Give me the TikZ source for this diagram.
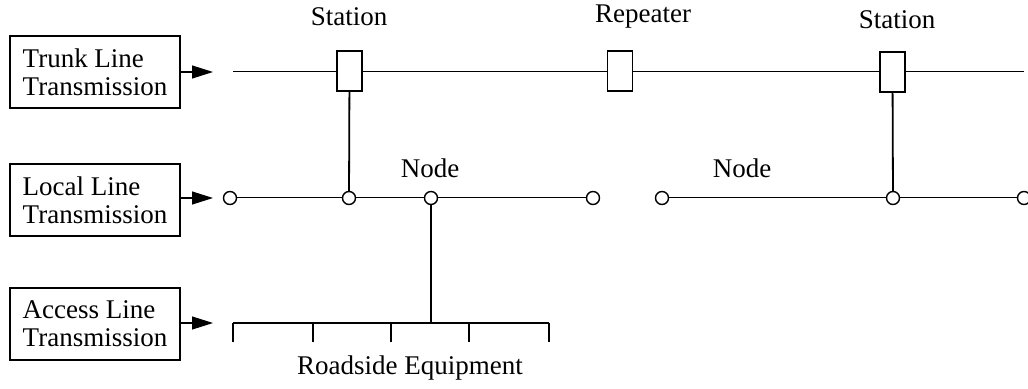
\documentclass[tikz,border=0pt]{standalone}
\usepackage{fontspec}
\setmainfont{Liberation Serif}
\usetikzlibrary{arrows.meta}
\tikzset{
  lbl/.style={draw,line width=0.7pt,minimum width=85pt,minimum height=36pt,align=left,inner sep=2pt},
  stbox/.style={draw,fill=white,line width=0.7pt,minimum width=12.5pt,minimum height=20pt,inner sep=0pt},
  jn/.style={draw,fill=white,circle,line width=0.7pt,minimum size=6.5pt,inner sep=0pt},
  feed/.style={line width=0.6pt,-{Triangle[length=10.5pt,width=6.5pt]}},
}
\begin{document}
\begin{tikzpicture}[x=0.5pt,y=-0.5pt,font=\fontsize{13.5}{14}\selectfont]
    \useasboundingbox (0,0) rectangle (1028,389);
    % left labels
    \node[lbl] (trunk) at (95,72) {Trunk Line\\Transmission};
    \node[lbl] (local) at (95,200) {Local Line\\Transmission};
    \node[lbl] (access) at (95,324) {Access Line\\Transmission};
    \coordinate (ta) at (213,72);
    \coordinate (la) at (213,198);
    \coordinate (aa) at (213,323);
    \draw[feed] (trunk.east) -- (ta);
    \draw[feed] (local.east |- la) -- (la);
    \draw[feed] (access.east |- aa) -- (aa);
    % trunk line
    \coordinate (tl) at (233,72);
    \coordinate (tr) at (1024,72);
    \node[stbox] (st1) at (349.5,71) {};
    \node[stbox] (rep) at (620,71) {};
    \node[stbox] (st2) at (892.5,72) {};
    \draw[line width=0.5pt] (tl) -- (st1.west |- tl) (st1.east |- tl) -- (rep.west |- tl)
        (rep.east |- tl) -- (st2.west |- tl) (st2.east |- tl) -- (tr);
    \node (st1lbl) at (349,17) {Station};
    \node (replbl) at (643,17) {Repeater};
    \node (st2lbl) at (897,20) {Station};
    % local line
    \foreach \x [count=\i] in {230,349,431,593,662,893,1024}
        \node[jn] (c\i) at (\x,198) {};
    \draw[line width=0.5pt] (c1) -- (c2) -- (c3) -- (c4);
    \draw[line width=0.5pt] (c5) -- (c6) -- (c7);
    \draw[line width=0.9pt] (st1) -- (c2);
    \draw[line width=0.9pt] (st2) -- (c6);
    \node (nd1) at (430,168) {Node};
    \node (nd2) at (742,168) {Node};
    % access line
    \foreach \x [count=\i] in {233,313,391,469,549} {
        \coordinate (b\i) at (\x,323);
        \coordinate (t\i) at (\x,342);
    }
    \coordinate (j) at (431,323);
    \draw[line width=0.6pt] (b1) -- (b5);
    \foreach \i in {1,...,5}
        \draw[line width=0.7pt] (b\i) -- (t\i);
    \draw[line width=0.9pt] (c3) -- (j);
    \node (rse) at (410,368) {Roadside Equipment};
\end{tikzpicture}
\end{document}
